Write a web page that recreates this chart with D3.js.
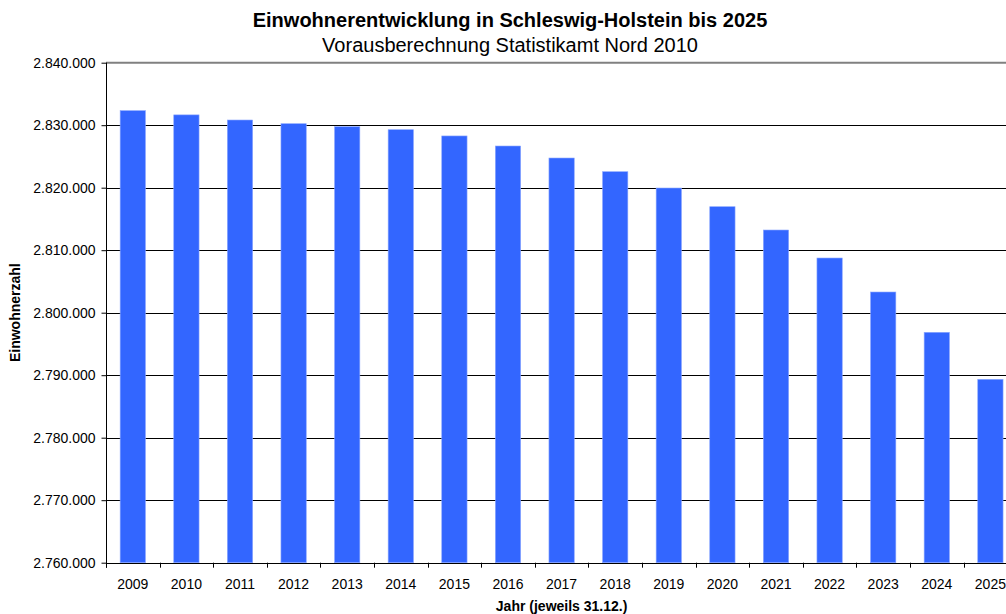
<!DOCTYPE html>
<html>
<head>
<meta charset="utf-8">
<script src="https://cdn.jsdelivr.net/npm/d3@7"></script>
<style>
  html, body { margin: 0; padding: 0; background: #fff; }
  svg { display: block; font-family: "Liberation Sans", Arial, sans-serif; }
</style>
</head>
<body>
<div id="chart"></div>
<script>
//Datos
const years = ['2009','2010','2011','2012','2013','2014','2015','2016','2017','2018','2019','2020','2021','2022','2023','2024','2025'];
const population = [2832330, 2831650, 2830830, 2830240, 2829760, 2829280, 2828280, 2826670, 2824750, 2822560, 2819950, 2816960, 2813230, 2808750, 2803310, 2796860, 2789340];
const yTicks = [2760000, 2770000, 2780000, 2790000, 2800000, 2810000, 2820000, 2830000, 2840000];

const BAR_COLOR = '#3366FF';

let width = 1006, height = 614;
let plot = {left: 106, top: 62.7, bottom: 562.7, right: 1017.2};

let svg = d3.select('#chart')
    .append('svg')
        .attr('width', width)
        .attr('height', height);

// Formato alemán de números
let de = d3.formatLocale({decimal: ',', thousands: '.', grouping: [3], currency: ['', ' €']});
let fmt = de.format(',d');

let x = d3.scaleBand()
    .domain(years)
    .range([plot.left, plot.right])
    .paddingInner(0.528)
    .paddingOuter(0.264);

let y = d3.scaleLinear()
    .domain([2760000, 2840000])
    .range([plot.bottom, plot.top]);

// Líneas de la cuadrícula
svg.append('g')
    .selectAll('line')
    .data(yTicks.slice(1, -1))
    .enter().append('line')
        .attr('x1', plot.left)
        .attr('x2', width)
        .attr('y1', d => Math.round(y(d)) + 0.5)
        .attr('y2', d => Math.round(y(d)) + 0.5)
        .attr('stroke', '#000')
        .attr('stroke-width', 1);

// Borde superior
svg.append('line')
    .attr('x1', plot.left)
    .attr('x2', width)
    .attr('y1', y(2840000))
    .attr('y2', y(2840000))
    .attr('stroke', '#808080')
    .attr('stroke-width', 2);

// Barras
svg.append('g')
    .selectAll('rect')
    .data(population)
    .enter().append('rect')
        .attr('x', (d, i) => x(years[i]))
        .attr('y', d => y(d))
        .attr('width', x.bandwidth())
        .attr('height', d => y(2760000) - y(d))
        .attr('fill', BAR_COLOR)
        .attr('stroke', '#8aa6ff')
        .attr('stroke-width', 0.6);

// Eje Y
let yAxis = d3.axisLeft(y)
    .tickValues(yTicks)
    .tickSize(5)
    .tickPadding(6)
    .tickFormat(fmt);

svg.append('g')
    .attr('transform', 'translate(' + (plot.left + 0.5) + ',0)')
    .call(yAxis)
    .call(g => g.select('.domain').attr('d', 'M0,' + plot.top + 'V' + (plot.bottom + 5)))
    .call(g => g.selectAll('text').attr('font-size', 14).attr('fill', '#000').attr('font-family', null))
    .call(g => g.selectAll('line').attr('stroke', '#000'));

// Eje X: marcas en los límites de categoría
let xBound = years.map(d => x(d) - x.step() * x.paddingInner() / 2);
svg.append('line')
    .attr('x1', plot.left)
    .attr('x2', width)
    .attr('y1', Math.round(plot.bottom) + 0.5)
    .attr('y2', Math.round(plot.bottom) + 0.5)
    .attr('stroke', '#000');

svg.append('g')
    .selectAll('line')
    .data(xBound)
    .enter().append('line')
        .attr('x1', d => Math.round(d) + 0.5)
        .attr('x2', d => Math.round(d) + 0.5)
        .attr('y1', plot.bottom)
        .attr('y2', plot.bottom + 5)
        .attr('stroke', '#000');

svg.append('g')
    .selectAll('text')
    .data(years)
    .enter().append('text')
        .attr('x', d => x(d) + x.bandwidth() / 2)
        .attr('y', 588.5)
        .attr('text-anchor', 'middle')
        .attr('font-size', 14)
        .text(d => d);

// Títulos
svg.append('text')
    .attr('x', 510)
    .attr('y', 26.5)
    .attr('text-anchor', 'middle')
    .attr('font-size', 20)
    .attr('font-weight', 'bold')
    .text('Einwohnerentwicklung in Schleswig-Holstein bis 2025');

svg.append('text')
    .attr('x', 510)
    .attr('y', 52.3)
    .attr('text-anchor', 'middle')
    .attr('font-size', 20)
    .text('Vorausberechnung Statistikamt Nord 2010');

svg.append('text')
    .attr('x', (plot.left + plot.right) / 2)
    .attr('y', 611)
    .attr('text-anchor', 'middle')
    .attr('font-size', 14)
    .attr('font-weight', 'bold')
    .text('Jahr (jeweils 31.12.)');

svg.append('text')
    .attr('transform', 'translate(20,' + 312.7 + ') rotate(-90)')
    .attr('text-anchor', 'middle')
    .attr('font-size', 14)
    .attr('font-weight', 'bold')
    .text('Einwohnerzahl');
</script>
</body>
</html>
